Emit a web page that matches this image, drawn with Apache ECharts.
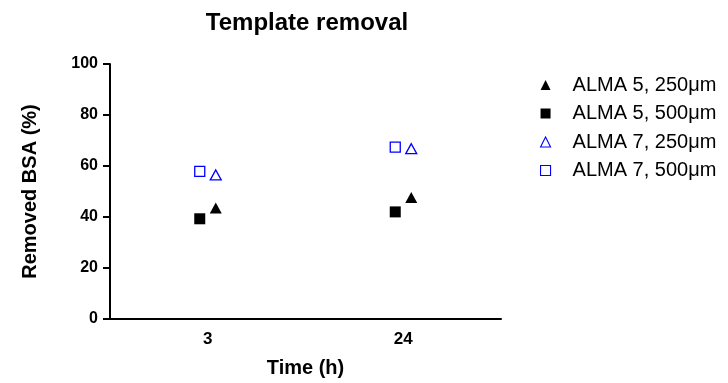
<!DOCTYPE html>
<html><head><meta charset="utf-8">
<script src="https://cdn.jsdelivr.net/npm/echarts@6/dist/echarts.min.js"></script>
<style>html,body{margin:0;padding:0;background:#fff}#c{width:728px;height:383px}</style>
</head><body><div id="c"></div>
<script>
const categories = ['3', '24'];
const alma5_250 = [43.5, 47.6];
const alma5_500 = [39.3, 42.0];
const alma7_250 = [56.5, 66.8];
const alma7_500 = [57.9, 67.4];
const yTicks = [0, 20, 40, 60, 80, 100];
const seriesNames = ['ALMA 5, 250μm', 'ALMA 5, 500μm', 'ALMA 7, 250μm', 'ALMA 7, 500μm'];

const font = 'Arial, "Liberation Sans", Helvetica, sans-serif';
const chart = echarts.init(document.getElementById('c'), null, {renderer: 'canvas'});
function s(name, data, symbol, color, filled, offset, size) {
  return {
    name, type: 'scatter', data, symbol, symbolSize: size,
    symbolOffset: [offset, 0],
    itemStyle: filled ? {color: color, opacity: 1} : {color: '#fff', borderColor: color, borderWidth: 1.3, opacity: 1},
    emphasis: {disabled: true}
  };
}
chart.setOption({
  animation: false,
  title: {text: 'Template removal', left: 307, textAlign: 'center', top: 11, padding: 0,
    textStyle: {fontFamily: font, fontWeight: 'bold', fontSize: 24, color: '#000'}},
  legend: {
    orient: 'vertical', left: 540, top: 75, itemWidth: 10, itemHeight: 10, itemGap: 8.5, padding: 0,
    textStyle: {fontFamily: font, fontSize: 20, lineHeight: 20, color: '#000', padding: [0, 0, 0, 17]},
    data: [
      {name: seriesNames[0], icon: 'triangle', itemStyle: {color: '#000'}},
      {name: seriesNames[1], icon: 'rect', itemStyle: {color: '#000'}},
      {name: seriesNames[2], icon: 'triangle', itemStyle: {color: '#fff', borderColor: '#0000ff', borderWidth: 1.1}},
      {name: seriesNames[3], icon: 'rect', itemStyle: {color: '#fff', borderColor: '#0000ff', borderWidth: 1.1}}
    ]
  },
  grid: {left: 110, top: 64, width: 391, bottom: 60, containLabel: false},
  xAxis: {
    type: 'category', data: categories, boundaryGap: true,
    name: 'Time (h)', nameLocation: 'middle', nameGap: 39,
    nameTextStyle: {fontFamily: font, fontWeight: 'bold', fontSize: 20, color: '#000'},
    axisLine: {lineStyle: {color: '#000', width: 2}},
    axisTick: {alignWithLabel: true, length: 7, lineStyle: {color: '#000', width: 2}},
    axisLabel: {fontFamily: font, fontWeight: 'bold', fontSize: 17, color: '#000', margin: 12},
    splitLine: {show: false}
  },
  yAxis: {
    type: 'value', min: yTicks[0], max: yTicks[yTicks.length - 1], interval: 20,
    name: 'Removed BSA (%)', nameLocation: 'middle', nameGap: 70,
    nameTextStyle: {fontFamily: font, fontWeight: 'bold', fontSize: 20, color: '#000'},
    axisLine: {show: true, lineStyle: {color: '#000', width: 2}},
    axisTick: {show: true, length: 7, lineStyle: {color: '#000', width: 2}},
    axisLabel: {fontFamily: font, fontWeight: 'bold', fontSize: 16, color: '#000', margin: 12},
    splitLine: {show: false}
  },
  series: [
    s(seriesNames[0], alma5_250, 'triangle', '#000', true, 8, [12, 11]),
    s(seriesNames[1], alma5_500, 'rect', '#000', true, -8, 11),
    s(seriesNames[2], alma7_250, 'triangle', '#0000ff', false, 8, [11, 10]),
    s(seriesNames[3], alma7_500, 'rect', '#0000ff', false, -8, 10)
  ]
});
</script></body></html>
